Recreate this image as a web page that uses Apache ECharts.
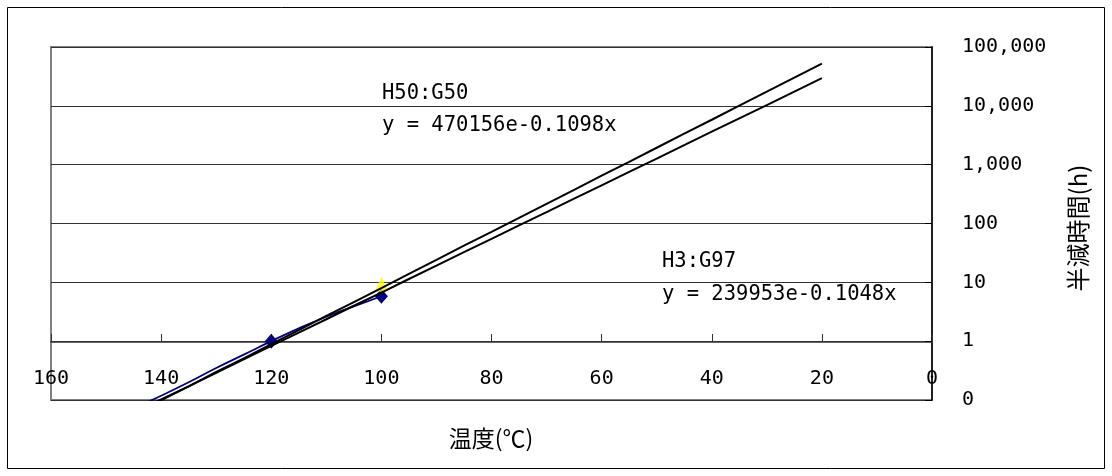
<!DOCTYPE html>
<html>
<head>
<meta charset="utf-8">
<script src="https://cdn.jsdelivr.net/npm/echarts@6/dist/echarts.min.js"></script>
<style>
html,body{margin:0;padding:0;background:#fff;}
#chart{width:1112px;height:476px;}
</style>
</head>
<body>
<div id="chart"></div>
<script>
// Temperatures (°C) for the two black curves
const temps = [142,140,135,130,125,120,115,110,105,100,95,90,85,80,75,70,65,60,55,50,45,40,35,30,25,20];
// H50:G50 curve (h)
const seriesH50 = [0.079,0.099,0.17,0.30,0.51,0.89,1.54,2.7,4.6,8.0,13.9,24,42,72,125,216,374,650,1120,1940,3360,5800,10100,17400,30200,52300];
// H3:G97 curve (h)
const seriesH3 = [0.083,0.102,0.17,0.29,0.49,0.83,1.40,2.36,4.0,6.7,11.4,19.2,32.5,55,93,156,264,446,753,1270,2150,3630,6130,10300,17500,29500];
// Blue measured line
const blueTemps = [143,140,135,130,125,120,115,110,105,100];
const blueVals = [0.088,0.118,0.2,0.35,0.59,1.0,1.65,2.6,3.9,5.8];
const blueMarked = [120,100];
// Yellow point
const yellowPts = [[100,9.3]];
// Tick labels
const xTicks = [0,20,40,60,80,100,120,140,160];
const yTickLabels = {'0.1':'0','1':'1','10':'10','100':'100','1000':'1,000','10000':'10,000','100000':'100,000'};
const eq1 = ['H50:G50','y = 470156e-0.1098x'];
const eq2 = ['H3:G97','y = 239953e-0.1048x'];
const xTitle = '温度(℃)';
const yTitle = '半減時間(h)';

const monoFont = "'DejaVu Sans Mono','Noto Sans CJK JP',monospace";
const cjkFont = "'Noto Sans CJK JP','Liberation Sans',sans-serif";

function yLabel(v){
  const e = Math.round(Math.log10(v));
  const key = String(Math.pow(10,e) >= 1 ? Math.pow(10,e) : 0.1);
  return yTickLabels[key] !== undefined ? yTickLabels[key] : '';
}

const chart = echarts.init(document.getElementById('chart'), null, {renderer:'canvas'});
const option = {
  animation:false,
  backgroundColor:'#ffffff',
  grid:[
    {left:51,right:180,top:47,bottom:76,show:true,borderColor:'#808080',borderWidth:2,backgroundColor:'transparent'},
    {left:51,right:180,top:47,bottom:134}
  ],
  xAxis:[
    {gridIndex:0,type:'value',min:0,max:160,interval:20,inverse:true,
     axisLine:{show:false},axisTick:{show:false},axisLabel:{show:false},splitLine:{show:false}},
    {gridIndex:1,type:'value',min:0,max:160,interval:20,inverse:true,
     axisLine:{show:true,onZero:false,lineStyle:{color:'#333',width:1.5}},
     axisTick:{show:true,inside:true,length:8,lineStyle:{color:'#333',width:1}},
     axisLabel:{show:true,margin:27,fontSize:20,color:'#000',fontFamily:monoFont,
       formatter:function(v){return xTicks.indexOf(v)>=0?String(v):'';}},
     splitLine:{show:false}}
  ],
  yAxis:[
    {gridIndex:0,type:'log',logBase:10,min:0.1,max:100000,position:'right',
     axisLine:{show:true,lineStyle:{color:'#000',width:1.5}},
     axisTick:{show:true,inside:true,length:7,lineStyle:{color:'#000'}},
     axisLabel:{margin:30,fontSize:20,color:'#000',fontFamily:monoFont,formatter:yLabel},
     splitLine:{show:true,lineStyle:{color:'#333',width:1.2}}},
    {gridIndex:1,type:'value',min:0,max:1,show:false}
  ],
  series:[
    {type:'line',name:'blue',xAxisIndex:0,yAxisIndex:0,smooth:true,
     data:blueTemps.map(function(t,i){
       const marked = blueMarked.indexOf(t)>=0;
       return {value:[t,blueVals[i]],symbol:marked?'diamond':'none',symbolSize:marked?[13,15]:0};
     }),
     showSymbol:true,lineStyle:{color:'#000080',width:1.8},itemStyle:{color:'#000080'},z:2},
    {type:'scatter',name:'yellow',xAxisIndex:0,yAxisIndex:0,data:yellowPts,
     symbol:'triangle',symbolSize:[14,15],itemStyle:{color:'#FFFF00'},z:3},
    {type:'line',name:'H50:G50',xAxisIndex:0,yAxisIndex:0,showSymbol:false,
     data:temps.map(function(t,i){return [t,seriesH50[i]];}),
     lineStyle:{color:'#000',width:2},z:4},
    {type:'line',name:'H3:G97',xAxisIndex:0,yAxisIndex:0,showSymbol:false,
     data:temps.map(function(t,i){return [t,seriesH3[i]];}),
     lineStyle:{color:'#000',width:2},z:4}
  ],
  graphic:[
    {type:'rect',z:-10,shape:{x:7.5,y:7.5,width:1097,height:461},style:{fill:'none',stroke:'#000',lineWidth:1}},
    {type:'text',z:10,x:382,y:94,style:{text:eq1[0],font:'20.5px '+monoFont,fill:'#000',verticalAlign:'middle',textVerticalAlign:'middle'}},
    {type:'text',z:10,x:382,y:126,style:{text:eq1[1],font:'20.5px '+monoFont,fill:'#000',verticalAlign:'middle',textVerticalAlign:'middle'}},
    {type:'text',z:10,x:662,y:262,style:{text:eq2[0],font:'20.5px '+monoFont,fill:'#000',verticalAlign:'middle',textVerticalAlign:'middle'}},
    {type:'text',z:10,x:662,y:295,style:{text:eq2[1],font:'20.5px '+monoFont,fill:'#000',verticalAlign:'middle',textVerticalAlign:'middle'}},
    {type:'text',z:10,x:491,y:438,style:{text:xTitle,font:'23px '+cjkFont,fill:'#000',align:'center',textAlign:'center',verticalAlign:'middle',textVerticalAlign:'middle'}},
    {type:'text',z:10,x:1078,y:228,rotation:Math.PI/2,style:{text:yTitle,font:'24px '+cjkFont,fill:'#000',align:'center',textAlign:'center',verticalAlign:'middle',textVerticalAlign:'middle'}}
  ]
};
chart.setOption(option);
</script>
</body>
</html>
